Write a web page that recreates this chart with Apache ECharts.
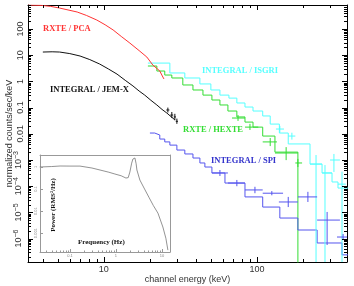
<!DOCTYPE html>
<html><head><meta charset="utf-8">
<script src="https://cdn.jsdelivr.net/npm/echarts@6/dist/echarts.min.js"></script>
<style>html,body{margin:0;padding:0;background:#fff}#c{width:354px;height:286px}</style>
</head><body><div id="c"></div>
<script>
// ---- main spectrum data (energy keV, normalized counts/sec/keV) ----
const pcaE = [3.2, 3.9, 4.5, 5.15, 6.7, 7.7, 9.0, 10.2, 11.5, 13.0, 14.8, 17.0, 19.1, 20.9, 23.2, 24.3, 24.7];
const pcaV = [820, 800, 730, 630, 445, 330, 220, 145, 92, 52, 29, 15, 8.5, 4.2, 2.5, 1.47, 1.24];

const jemxE = [4.0, 4.6, 5.15, 6.0, 7.0, 8.1, 9.4, 10.7, 12.2, 13.8, 15.5, 17.0, 18.5, 20.3, 22.2, 24.0, 25.8, 27.5, 29.1];
const jemxV = [13.2, 13.5, 13.2, 11.5, 9.3, 6.8, 4.6, 3.0, 1.9, 1.1, 0.67, 0.43, 0.30, 0.19, 0.126, 0.085, 0.062, 0.045, 0.034];
// crosses: [E, V, Elo, Ehi, Vlo, Vhi]
const jemxErr = [[26.2, 0.081, 25.6, 26.8, 0.065, 0.1], [27.8, 0.052, 27.2, 28.4, 0.04, 0.068], [29.1, 0.044, 28.6, 29.6, 0.033, 0.058], [30.0, 0.030, 29.5, 30.5, 0.024, 0.038]];

const hexteE = [19.4, 22.2, 25.0, 27.8, 32.8, 38.2, 44.4, 50.8, 57.3, 64.6, 73.9, 83.5, 94.2, 109, 131, 185, 185];
const hexteV = [3.87, 2.49, 1.75, 1.35, 0.73, 0.47, 0.30, 0.195, 0.126, 0.074, 0.044, 0.028, 0.018, 0.0082, 0.002, 0.002, 1e-9];
const hexteErr = [[75.2, 0.040, 68.7, 83.5, 0.031, 0.052], [90, 0.018, 83.5, 102, 0.014, 0.024], [122, 0.0049, 109, 135, 0.0034, 0.0069], [155, 0.00185, 131, 185, 0.00099, 0.0031], [185, 0.00077, 178, 197, 0.00054, 0.0011]];

const isgriE = [19.4, 27.0, 33.8, 42.4, 50.0, 57.3, 65.6, 73.9, 83.5, 94.2, 109, 122, 140, 160, 222, 266, 309, 338, 400];
const isgriV = [5.0, 2.1, 1.35, 0.80, 0.47, 0.30, 0.23, 0.15, 0.105, 0.074, 0.048, 0.0235, 0.0107, 0.0041, 7.0e-4, 3.2e-4, 1.45e-4, 8.5e-5, 8.5e-5];
const isgriErr = [[141, 0.0152, 133, 150, 0.011, 0.02], [169, 0.0082, 160, 178, 0.006, 0.011], [243, 7.0e-4, 222, 266, 1e-9, 1.55e-3], [278, 3.2e-4, 266, 309, 1e-9, 6.4e-4], [318, 1.0e-3, 300, 348, 3.5e-4, 1.7e-3], [359, 1.2e-4, 338, 380, 1e-9, 3.6e-4]];

const spiE = [20.0, 21.5, 23.2, 25.0, 27.0, 30.0, 33.8, 38.2, 42.4, 45.7, 50.8, 61.8, 83.5, 109, 141, 185, 247, 359, 405];
const spiV = [0.0107, 0.0090, 0.0063, 0.0049, 0.0037, 0.0024, 0.0017, 0.00119, 7.7e-4, 5.4e-4, 3.2e-4, 1.32e-4, 3.9e-5, 1.6e-5, 6.1e-6, 2.13e-6, 6.8e-7, 2.4e-7, 2.4e-7];
const spiErr = [[57.3, 3.2e-4, 50.8, 64.6, 2.45e-4, 4.15e-4], [73.9, 1.32e-4, 64.6, 83.5, 1.0e-4, 1.73e-4], [97, 7.2e-5, 83.5, 109, 5.4e-5, 9.5e-5], [125, 5.4e-5, 109, 148, 4.5e-5, 6.5e-5], [160, 2.5e-5, 139, 185, 1.6e-5, 3.9e-5], [215, 3.9e-5, 185, 247, 2.5e-5, 6.1e-5], [287, 5.1e-6, 247, 348, 5.7e-7, 1.04e-5], [365, 1.15e-6, 333, 405, 8.8e-7, 1.5e-6]];

// ---- inset power spectrum ----
const freqHz = [0.022, 0.04, 0.061, 0.1, 0.165, 0.3, 0.45, 0.7, 0.95, 1.3, 1.65, 1.85, 2.01, 2.2, 2.34, 2.5, 2.59, 2.75, 2.86, 3.32, 4.2, 5.2, 6.5, 8.2, 10.5, 12.2, 13.5];
const power = [1.0, 1.05, 1.11, 1.1, 1.1, 0.9, 0.73, 0.58, 0.48, 0.4, 0.316, 0.33, 0.59, 1.5, 2.3, 2.6, 2.56, 1.4, 0.73, 0.256, 0.1, 0.043, 0.018, 0.0081, 0.0019, 0.00059, 0.00017];

// ---- ticks ----
const xMajor = [10, 100];
const xMinorMant = [2, 3, 4, 5, 6, 7, 8, 9];
const xDecades = [1, 10, 100];
const yMajor = [1e-6, 1e-5, 1e-4, 1e-3, 0.01, 0.1, 1, 10, 100];
const yDecades = [1e-7, 1e-6, 1e-5, 1e-4, 1e-3, 0.01, 0.1, 1, 10, 100];
const insetXTicks = [0.1, 1, 10];
const insetYTicks = [1, 0.1, 0.01, 0.001];
const insetXMinor = [0.03, 0.04, 0.05, 0.06, 0.07, 0.08, 0.09, 0.2, 0.3, 0.4, 0.5, 0.6, 0.7, 0.8, 0.9, 2, 3, 4, 5, 6, 7, 8, 9];

const xMinor = [];
xDecades.forEach(d => xMinorMant.forEach(m => xMinor.push(+(d * m).toPrecision(3))));
const yMinor = [];
yDecades.forEach(d => xMinorMant.forEach(m => yMinor.push(+(d * m).toPrecision(3))));

const zip = (a, b) => a.map((v, i) => [v, b[i]]);

const chart = echarts.init(document.getElementById('c'), null, {renderer: 'canvas'});

function yFmt(v) {
  if (v >= 0.01) return String(+v.toPrecision(3));
  const e = Math.round(Math.log10(v));
  return '10{s|\u2212' + (-e) + '}';
}

const font = 'Liberation Sans';
const XMIN = 3.2, XMAX = 387, YMIN = 1.28e-7, YMAX = 824;

// custom series that draws tick marks at given axis values (through the axis scales)
function tickSeries(vals, isX, len) {
  return {
    type: 'custom', xAxisIndex: 0, yAxisIndex: 0, clip: false, silent: true, z: 5,
    data: vals.filter(v => isX ? (v > XMIN && v < XMAX) : (v > YMIN && v < YMAX)).map(v => [v]),
    renderItem: function (params, api) {
      const v = api.value(0);
      const st = {stroke: '#000', lineWidth: 1};
      if (isX) {
        const b = api.coord([v, YMIN]), t = api.coord([v, YMAX]);
        const x = Math.round(b[0]) + 0.5;
        return {type: 'group', children: [
          {type: 'line', shape: {x1: x, y1: b[1], x2: x, y2: b[1] - len}, style: st},
          {type: 'line', shape: {x1: x, y1: t[1], x2: x, y2: t[1] + len}, style: st}
        ]};
      } else {
        const l = api.coord([XMIN, v]), r = api.coord([XMAX, v]);
        const y = Math.round(l[1]) + 0.5;
        return {type: 'group', children: [
          {type: 'line', shape: {x1: l[0], y1: y, x2: l[0] + len, y2: y}, style: st},
          {type: 'line', shape: {x1: r[0], y1: y, x2: r[0] - len, y2: y}, style: st}
        ]};
      }
    }
  };
}

const xAxes = [
  {
    type: 'log', gridIndex: 0, position: 'bottom', min: XMIN, max: XMAX,
    name: 'channel energy (keV)', nameLocation: 'middle', nameGap: 13, nameMoveOverlap: false,
    nameTextStyle: {fontFamily: font, fontSize: 9, color: '#333'},
    axisLine: {show: true, lineStyle: {color: '#000', width: 1}},
    axisTick: {show: false},
    axisLabel: {show: true, customValues: xMajor, fontFamily: font, fontSize: 9, color: '#333', margin: 3, formatter: v => String(Math.round(v))},
    splitLine: {show: false}
  },
  {
    type: 'log', gridIndex: 0, position: 'top', min: XMIN, max: XMAX,
    axisLine: {show: true, lineStyle: {color: '#000', width: 1}},
    axisTick: {show: false}, axisLabel: {show: false}, splitLine: {show: false}
  },
  {
    type: 'log', gridIndex: 1, position: 'bottom', min: 0.0223, max: 15,
    axisLine: {show: true, lineStyle: {color: '#999', width: 1}},
    axisTick: {show: false},
    axisLabel: {show: true, customValues: insetXTicks, fontFamily: font, fontSize: 4, color: '#888', margin: 2, formatter: v => String(+v.toPrecision(2))},
    splitLine: {show: false}
  },
  {
    type: 'log', gridIndex: 1, position: 'top', min: 0.0223, max: 15,
    axisLine: {show: true, lineStyle: {color: '#999', width: 1}},
    axisTick: {show: false}, axisLabel: {show: false}, splitLine: {show: false}
  }
];
const yAxes = [
  {
    type: 'log', gridIndex: 0, position: 'left', min: YMIN, max: YMAX,
    name: 'normalized counts/sec/keV', nameLocation: 'middle', nameGap: 14, nameMoveOverlap: false,
    nameTextStyle: {fontFamily: font, fontSize: 9, color: '#333'},
    axisLine: {show: true, lineStyle: {color: '#000', width: 1}},
    axisTick: {show: false},
    axisLabel: {show: true, customValues: yMajor, rotate: 90, fontFamily: font, fontSize: 9, color: '#333', margin: 3, formatter: yFmt,
      rich: {s: {fontSize: 7, fontFamily: font, color: '#333', verticalAlign: 'top', padding: [0, 0, 5, 0]}}},
    splitLine: {show: false}
  },
  {
    type: 'log', gridIndex: 0, position: 'right', min: YMIN, max: YMAX,
    axisLine: {show: true, lineStyle: {color: '#000', width: 1}},
    axisTick: {show: false}, axisLabel: {show: false}, splitLine: {show: false}
  },
  {
    type: 'log', gridIndex: 1, position: 'left', min: 1.4e-4, max: 3.5,
    axisLine: {show: true, lineStyle: {color: '#999', width: 1}},
    axisTick: {show: false},
    axisLabel: {show: true, customValues: insetYTicks, rotate: 90, fontFamily: font, fontSize: 4, color: '#888', margin: 2, formatter: v => String(+v.toPrecision(2))},
    splitLine: {show: false}
  },
  {
    type: 'log', gridIndex: 1, position: 'right', min: 1.4e-4, max: 3.5,
    axisLine: {show: true, lineStyle: {color: '#999', width: 1}},
    axisTick: {show: false}, axisLabel: {show: false}, splitLine: {show: false}
  }
];

function crossSeries(data, color) {
  return {
    type: 'custom', xAxisIndex: 0, yAxisIndex: 0, clip: true, silent: true, z: 3,
    data: data,
    renderItem: function (params, api) {
      const c = api.coord([api.value(0), api.value(1)]);
      const l = api.coord([api.value(2), api.value(1)]);
      const r = api.coord([api.value(3), api.value(1)]);
      const lo = api.coord([api.value(0), api.value(4)]);
      const hi = api.coord([api.value(0), api.value(5)]);
      const st = {stroke: color, lineWidth: 1};
      return {type: 'group', children: [
        {type: 'line', shape: {x1: l[0], y1: c[1], x2: r[0], y2: c[1]}, style: st},
        {type: 'line', shape: {x1: c[0], y1: hi[1], x2: c[0], y2: lo[1]}, style: st}
      ]};
    }
  };
}
function lineSeries(E, V, color, step) {
  return {
    type: 'line', xAxisIndex: 0, yAxisIndex: 0, data: zip(E, V), step: step || false,
    showSymbol: false, symbol: 'none', clip: true, silent: true,
    lineStyle: {color: color, width: 1}, z: 2
  };
}

// inset ticks
function insetTickSeries(vals, isX, len) {
  return {
    type: 'custom', xAxisIndex: 2, yAxisIndex: 2, clip: false, silent: true, z: 5,
    data: vals.map(v => [v]),
    renderItem: function (params, api) {
      const v = api.value(0);
      const st = {stroke: '#999', lineWidth: 1};
      if (isX) {
        const b = api.coord([v, 1.4e-4]);
        const x = Math.round(b[0]) + 0.5;
        return {type: 'line', shape: {x1: x, y1: b[1], x2: x, y2: b[1] - len}, style: st};
      } else {
        const l = api.coord([0.0223, v]);
        const y = Math.round(l[1]) + 0.5;
        return {type: 'line', shape: {x1: l[0], y1: y, x2: l[0] + len, y2: y}, style: st};
      }
    }
  };
}

const red = '#ff3333', black = '#111111', green = '#33dd33', cyan = '#55ffff', blue = '#5555ee';

const lbl = (text, x, y, color) => ({
  type: 'text', left: x, top: y, z: 10,
  style: {text: text, fill: color, font: 'bold 8.5px "Liberation Serif"'}
});

chart.setOption({
  animation: false,
  backgroundColor: '#fff',
  grid: [
    {left: 28, top: 5, right: 7, bottom: 24, outerBoundsMode: 'none', containLabel: false},
    {left: 40, top: 155, width: 130, height: 97, outerBoundsMode: 'none', containLabel: false}
  ],
  xAxis: xAxes,
  yAxis: yAxes,
  series: [
    lineSeries(isgriE, isgriV, cyan, 'end'),
    lineSeries(hexteE, hexteV, green, 'end'),
    lineSeries(spiE, spiV, blue, 'end'),
    lineSeries(pcaE, pcaV, red, false),
    lineSeries(jemxE, jemxV, black, false),
    crossSeries(isgriErr, cyan),
    crossSeries(hexteErr, green),
    crossSeries(spiErr, blue),
    crossSeries(jemxErr, black),
    tickSeries(xMajor, true, 5),
    tickSeries(xMinor, true, 3),
    tickSeries(yMajor, false, 5),
    tickSeries(yMinor, false, 3),
    {
      type: 'line', xAxisIndex: 2, yAxisIndex: 2, data: zip(freqHz, power),
      showSymbol: false, symbol: 'none', silent: true, clip: true,
      lineStyle: {color: '#777', width: 0.8}
    },
    insetTickSeries(insetXTicks, true, 3),
    insetTickSeries(insetXMinor, true, 1.5),
    insetTickSeries(insetYTicks, false, 3)
  ],
  graphic: [
    lbl('RXTE / PCA', 43, 24, red),
    lbl('INTEGRAL / JEM-X', 50, 85, black),
    lbl('INTEGRAL / ISGRI', 202, 66, cyan),
    lbl('RXTE / HEXTE', 183, 125, green),
    lbl('INTEGRAL / SPI', 211, 156, '#3333cc'),
    {type: 'text', left: 78, top: 239, z: 10, style: {text: 'Frequency (Hz)', fill: '#111', font: 'bold 7px "Liberation Serif"'}},
    {type: 'text', x: 53, y: 205, rotation: Math.PI / 2, z: 10,
      style: {text: 'Power (RMS\u00B2/Hz)', fill: '#111', font: 'bold 7px "Liberation Serif"', align: 'center', verticalAlign: 'middle'}}
  ]
});
</script>
</body></html>
